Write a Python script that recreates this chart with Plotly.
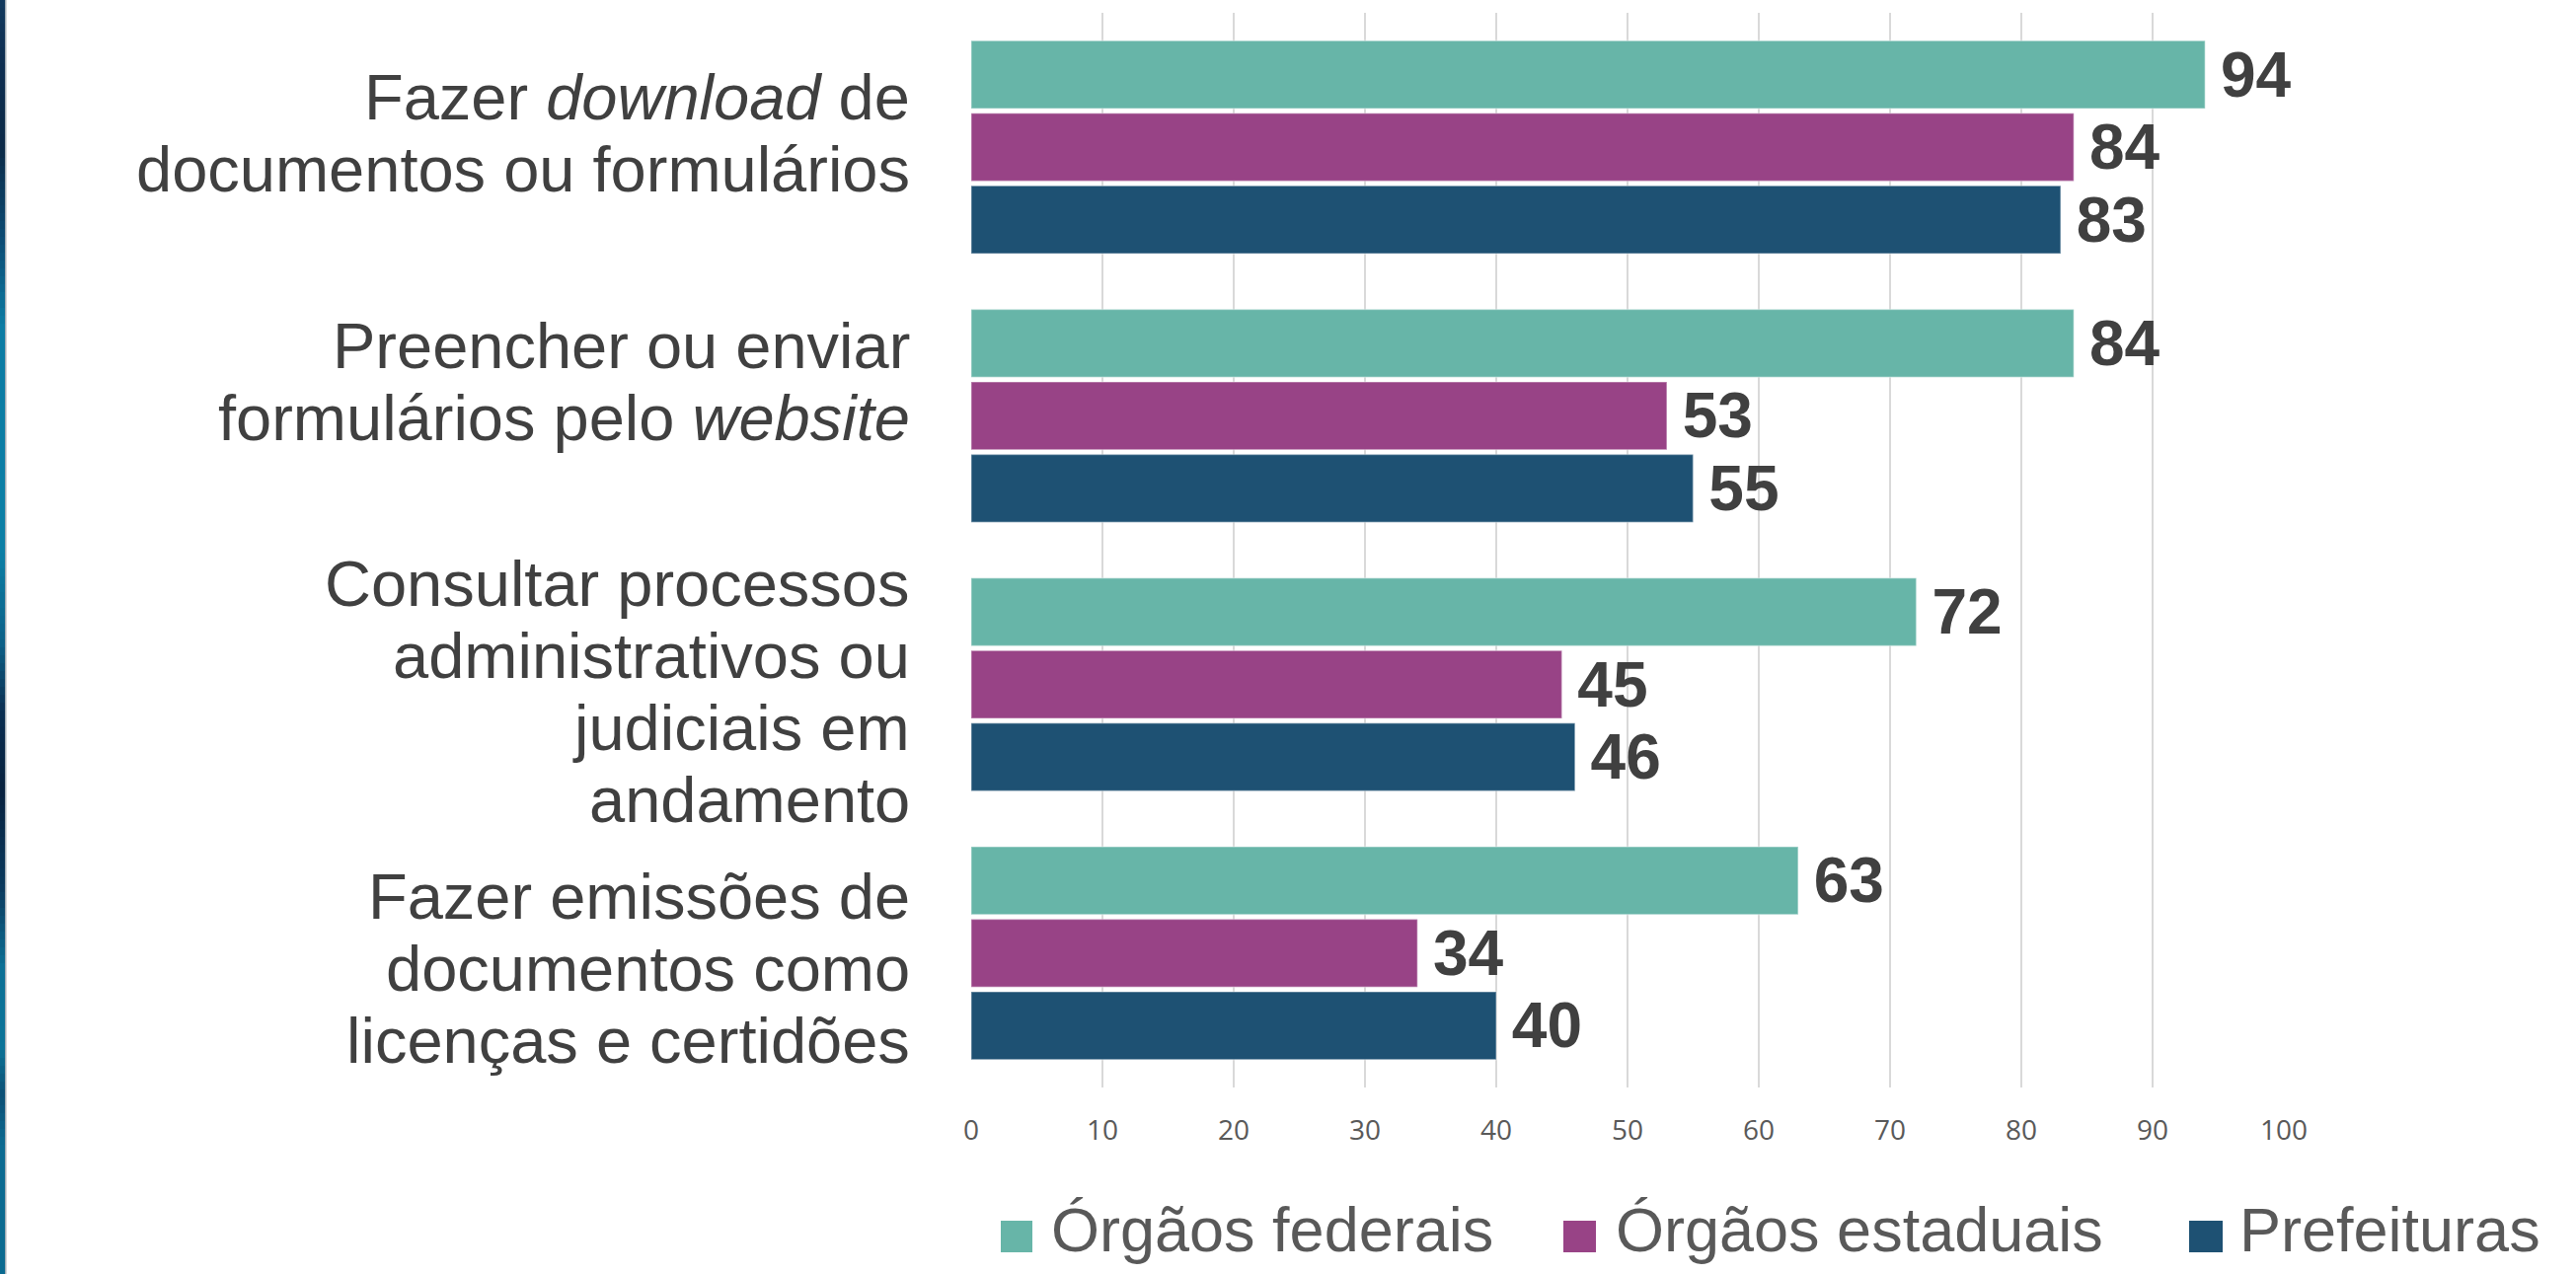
import plotly.graph_objects as go
import numpy as np

# ---------------- data ----------------
categories = [
    "Fazer download de documentos ou formulários",
    "Preencher ou enviar formulários pelo website",
    "Consultar processos administrativos ou judiciais em andamento",
    "Fazer emissões de documentos como licenças e certidões",
]
category_lines = [
    ["Fazer <i>download</i> de", "documentos ou formulários"],
    ["Preencher ou enviar", "formulários pelo <i>website</i>"],
    ["Consultar processos", "administrativos ou", "judiciais em", "andamento"],
    ["Fazer emissões de", "documentos como", "licenças e certidões"],
]
series_names = ["Órgãos federais", "Órgãos estaduais", "Prefeituras"]
federais = [94, 84, 72, 63]
estaduais = [84, 53, 45, 34]
prefeituras = [83, 55, 46, 40]
x_ticks = [0, 10, 20, 30, 40, 50, 60, 70, 80, 90, 100]

# ---------------- style ----------------
colors = ["#67B5A8", "#984386", "#1E5173"]
W, H = 2610, 1291
L, R, T, B = 984, 296, 13, 189
PW, PH = W - L - R, H - T - B

def px_x(x):
    return (x - L) / PW

def px_y(y):
    return (H - B - y) / PH

fig = go.Figure()
for name, vals, col in zip(series_names, [federais, estaduais, prefeituras], colors):
    fig.add_trace(go.Bar(
        y=categories, x=vals, name=name, orientation="h",
        marker=dict(color=col, line=dict(color="rgba(255,255,255,0.35)", width=1.5)),
        text=vals, texttemplate="\u2009%{x}", textposition="outside",
        textfont=dict(family="Liberation Sans", size=64, color="#404040", weight="bold"),
        constraintext="none", cliponaxis=False, showlegend=False,
    ))

annotations = []
shapes = []

# category labels (one annotation per line, tight line spacing)
label_mid_baseline = [158, 410, 723.5, 1004.5]
LFS = 65
PITCH = 73
for lines, mid in zip(category_lines, label_mid_baseline):
    n = len(lines)
    for k, txt in enumerate(lines):
        b = mid + (k - (n - 1) / 2) * PITCH
        annotations.append(dict(
            text=txt, xref="paper", yref="paper", x=px_x(923), y=px_y(b - 0.3465 * LFS),
            xanchor="right", yanchor="middle", showarrow=False, borderpad=0,
            font=dict(family="Liberation Sans", size=LFS, color="#404040"),
        ))

# custom legend
leg_sq = [(1014, 1046), (1584, 1617), (2218, 2252)]
leg_tx = [1065, 1637, 2269]
LGS = 63
for name, col, (sx0, sx1), tx in zip(series_names, colors, leg_sq, leg_tx):
    shapes.append(dict(type="rect", xref="paper", yref="paper",
                       x0=px_x(sx0), x1=px_x(sx1), y0=px_y(1269), y1=px_y(1237),
                       fillcolor=col, line=dict(width=0)))
    annotations.append(dict(
        text=name, xref="paper", yref="paper", x=px_x(tx - 2), y=px_y(1268 - 0.3465 * LGS),
        xanchor="left", yanchor="middle", showarrow=False,
        font=dict(family="Liberation Sans", size=LGS, color="#595959"),
    ))

# decorative left stripe
stops_y = [0, 60, 150, 250, 330, 560, 650, 720, 800, 900, 980, 1060, 1110, 1160, 1291]
stops_c = ["#123a5e", "#0e2f52", "#0b2a48", "#0a4f78", "#0a7ca4", "#0a7fa6", "#0a6189",
           "#0a2f52", "#08223f", "#0a3a5e", "#0a7096", "#0a7499", "#0a4f75", "#0a6b92", "#0a6a90"]
def hex2rgb(h):
    return np.array([int(h[i:i + 2], 16) for i in (1, 3, 5)], dtype=float)
rgbs = np.array([hex2rgb(c) for c in stops_c])
step = 8
for y0 in range(0, H, step):
    yc = y0 + step / 2
    c = [np.interp(yc, stops_y, rgbs[:, k]) for k in range(3)]
    shapes.append(dict(type="rect", xref="paper", yref="paper", layer="above",
                       x0=px_x(0), x1=px_x(5), y0=px_y(y0 + step), y1=px_y(y0),
                       fillcolor="rgb(%d,%d,%d)" % tuple(int(v) for v in c), line=dict(width=0)))
shapes.append(dict(type="rect", xref="paper", yref="paper", x0=px_x(5), x1=px_x(6.5),
                   y0=px_y(H), y1=px_y(0), fillcolor="#a3adb5", line=dict(width=0)))

fig.update_layout(
    width=W, height=H,
    margin=dict(l=L, r=R, t=T, b=B, pad=0),
    paper_bgcolor="white", plot_bgcolor="white",
    barmode="group", bargap=0.19, bargroupgap=0.066,
    showlegend=False,
    annotations=annotations, shapes=shapes,
    xaxis=dict(range=[0, 100], tickvals=x_ticks, showgrid=True, gridcolor="#D9D9D9", gridwidth=1.5,
               zeroline=False, showline=False, ticks="", ticklabelstandoff=24,
               tickfont=dict(family="Open Sans", size=28, color="#595959"), fixedrange=True),
    yaxis=dict(autorange="reversed", showticklabels=False, showgrid=False, zeroline=False,
               showline=False, ticks="", fixedrange=True),
)

fig.write_html("out.html")
